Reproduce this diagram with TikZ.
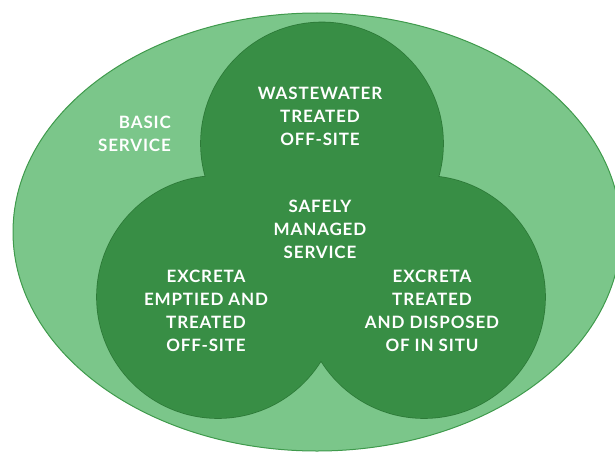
\documentclass[tikz,border=0pt]{standalone}
\usepackage{fontspec}
\setmainfont{Lato}[LetterSpace=5]
\definecolor{outerfill}{HTML}{7BC68A}
\definecolor{outerline}{HTML}{3F9A4C}
\definecolor{innerfill}{HTML}{388E45}
\definecolor{innerline}{HTML}{2D7A38}
\tikzset{
  lbl/.style={text=white, font=\fontsize{17}{23}\selectfont\bfseries, align=center, inner sep=0pt},
}
\begin{document}
\begin{tikzpicture}[x=1pt,y=-1pt]
\useasboundingbox (0,0) rectangle (615,452);
% outer ellipse
\filldraw[fill=outerfill, draw=outerline, line width=1pt] (317,232) ellipse [x radius=304pt, y radius=219pt];
% three circles: outlines first, then fills on top
\foreach \p in {(322,143.5),(218,297),(424,297)}
  \filldraw[fill=innerfill, draw=innerline, line width=1.6pt] \p circle [radius=121pt];
\foreach \p in {(322,143.5),(218,297),(424,297)}
  \fill[innerfill] \p circle [radius=121pt];
% labels
\node[lbl] (top) at (320,116) {WASTEWATER\\TREATED\\OFF-SITE};
\node[lbl, align=right, anchor=east] (basic) at (171,134) {BASIC\\SERVICE};
\node[lbl] (safe) at (320,229) {SAFELY\\MANAGED\\SERVICE};
\node[lbl] (left) at (206,311) {EXCRETA\\EMPTIED AND\\TREATED\\OFF-SITE};
\node[lbl] (right) at (432,311) {EXCRETA\\TREATED\\AND DISPOSED\\OF IN SITU};
\end{tikzpicture}
\end{document}
